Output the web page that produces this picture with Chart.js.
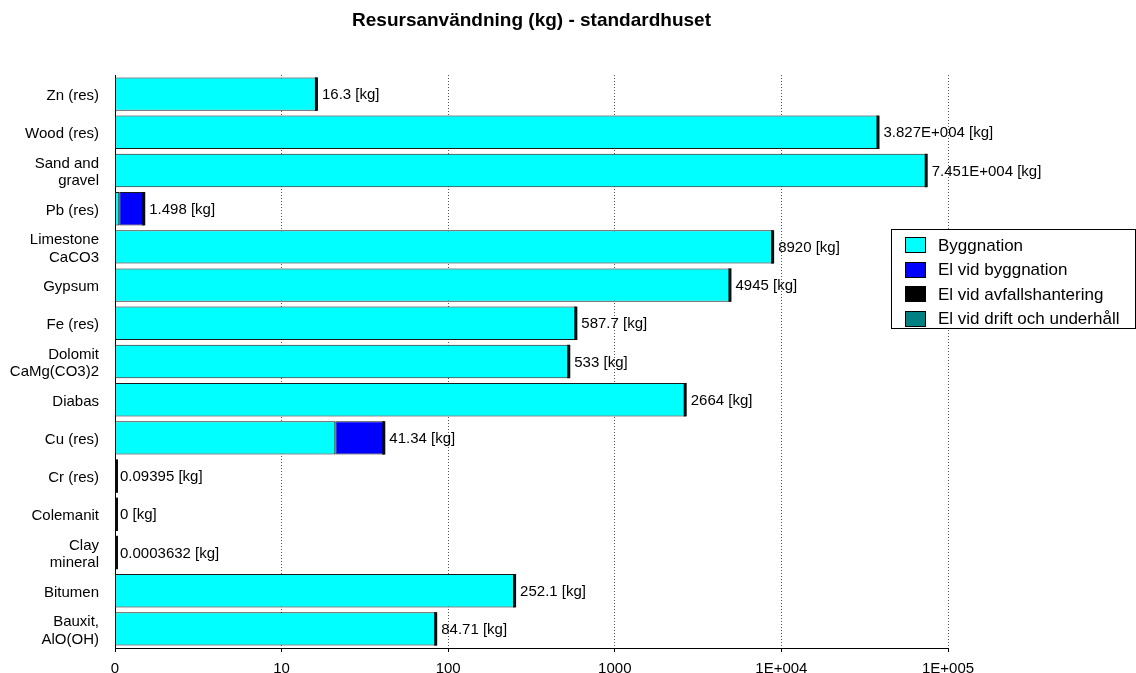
<!DOCTYPE html>
<html>
<head>
<meta charset="utf-8">
<script src="https://cdn.jsdelivr.net/npm/chart.js@4.4.1/dist/chart.umd.min.js"></script>
<style>
  html, body { margin: 0; padding: 0; background: #ffffff; }
  canvas { display: block; }
</style>
</head>
<body>
<canvas id="chart" width="1136" height="673"></canvas>
<script>
// Resource categories (top to bottom)
const categories = [
  ['Zn (res)'], ['Wood (res)'], ['Sand and', 'gravel'], ['Pb (res)'],
  ['Limestone', 'CaCO3'], ['Gypsum'], ['Fe (res)'], ['Dolomit', 'CaMg(CO3)2'],
  ['Diabas'], ['Cu (res)'], ['Cr (res)'], ['Colemanit'], ['Clay', 'mineral'],
  ['Bitumen'], ['Bauxit,', 'AlO(OH)']
];

// Series values in kg
const byggnation      = [16.3, 38270, 74510, 1.06, 8920, 4945, 587.7, 533, 2664, 21, 0.09395, 0, 0.0003632, 252.1, 84.71];
const elVidByggnation = [0, 0, 0, 0.438, 0, 0, 0, 0, 0, 20.34, 0, 0, 0, 0, 0];
const elVidAvfall     = [0, 0, 0, 0, 0, 0, 0, 0, 0, 0, 0, 0, 0, 0, 0];
const elVidDrift      = [0, 0, 0, 0, 0, 0, 0, 0, 0, 0, 0, 0, 0, 0, 0];

const seriesNames  = ['Byggnation', 'El vid byggnation', 'El vid avfallshantering', 'El vid drift och underhåll'];
const seriesColors = ['#00FFFF', '#0000FF', '#000000', '#008080'];

// Log axis ticks and their printed labels
const tickValues = [1, 10, 100, 1000, 10000, 100000];
const tickLabels = ['0', '10', '100', '1000', '1E+004', '1E+005'];

const chartTitle = 'Resursanvändning (kg) - standardhuset';
const unit = '[kg]';

const FONT = "'Liberation Sans', Arial, Helvetica, sans-serif";
const seriesData = [byggnation, elVidByggnation, elVidAvfall, elVidDrift];

// General-style number text: 4 significant digits, E+nnn above 1E+004
function valueText(v) {
  if (v === 0) return '0';
  if (Math.abs(v) >= 10000) {
    const e = Math.floor(Math.log10(Math.abs(v)));
    return (v / Math.pow(10, e)).toFixed(3) + 'E+' + String(e).padStart(3, '0');
  }
  return String(Number(v.toPrecision(4)));
}

const titlePlugin = {
  id: 'plotTitle',
  afterDraw(chart) {
    const { ctx, chartArea } = chart;
    ctx.save();
    ctx.font = 'bold 19px ' + FONT;
    ctx.fillStyle = '#000';
    ctx.textAlign = 'center';
    ctx.textBaseline = 'middle';
    ctx.fillText(chartTitle, (chartArea.left + chartArea.right) / 2, 21);
    ctx.restore();
  }
};

// Dark end cap on every stacked bar plus the total printed after it
const barEndPlugin = {
  id: 'barEnds',
  afterDatasetsDraw(chart) {
    const { ctx, chartArea, scales } = chart;
    const meta = chart.getDatasetMeta(0);
    ctx.save();
    ctx.font = '15px ' + FONT;
    ctx.textAlign = 'left';
    ctx.textBaseline = 'middle';
    categories.forEach((c, i) => {
      const total = seriesData.reduce((s, arr) => s + arr[i], 0);
      const raw = total > 0 ? scales.x.getPixelForValue(total) : chartArea.left;
      const px = Math.max(raw, chartArea.left + 2);
      const bar = meta.data[i];
      const top = bar.y - bar.height / 2;
      ctx.fillStyle = '#0a0a0a';
      ctx.fillRect(px - 2, top, 3, bar.height);
      ctx.fillStyle = '#000';
      ctx.fillText(valueText(total) + ' ' + unit, Math.max(raw, chartArea.left) + 5, scales.y.getPixelForValue(i) + 1);
    });
    ctx.restore();
  }
};

const boxLegendPlugin = {
  id: 'boxLegend',
  afterDraw(chart) {
    const { ctx } = chart;
    const box = { left: 891.5, top: 229.5, right: 1135.5, bottom: 328.5 };
    ctx.save();
    ctx.fillStyle = '#fff';
    ctx.fillRect(box.left, box.top, box.right - box.left, box.bottom - box.top);
    ctx.strokeStyle = '#000';
    ctx.lineWidth = 1;
    ctx.strokeRect(box.left, box.top, box.right - box.left, box.bottom - box.top);
    ctx.font = '17px ' + FONT;
    ctx.textAlign = 'left';
    ctx.textBaseline = 'middle';
    chart.data.datasets.forEach((ds, i) => {
      const cy = 245 + i * 24.5;
      ctx.fillStyle = ds.backgroundColor;
      ctx.fillRect(905, Math.round(cy - 8), 21, 16);
      ctx.strokeStyle = '#000';
      ctx.strokeRect(905.5, Math.round(cy - 8) + 0.5, 20, 15);
      ctx.fillStyle = '#000';
      ctx.fillText(ds.label, 938, cy + 1);
    });
    ctx.restore();
  }
};

const datasets = seriesNames.map((name, i) => ({
  label: name,
  data: seriesData[i],
  backgroundColor: seriesColors[i],
  borderColor: '#1a1a1a',
  borderWidth: 1,
  borderSkipped: false,
  barPercentage: 0.875,
  categoryPercentage: 1.0,
  clip: 0
}));

new Chart(document.getElementById('chart').getContext('2d'), {
  type: 'bar',
  data: { labels: categories, datasets },
  options: {
    responsive: false,
    animation: false,
    indexAxis: 'y',
    layout: { padding: { top: 75, right: 188, bottom: 0, left: 0 } },
    plugins: {
      legend: { display: false },
      tooltip: { enabled: false },
      title: { display: false }
    },
    scales: {
      x: {
        type: 'logarithmic',
        position: 'bottom',
        stacked: true,
        min: 1,
        max: 100000,
        afterBuildTicks(scale) {
          scale.ticks = tickValues.map(v => ({ value: v }));
        },
        afterFit(scale) {
          scale.height = 25;
          scale.paddingLeft = 0;
          scale.paddingRight = 0;
        },
        ticks: {
          autoSkip: false,
          maxRotation: 0,
          color: '#000',
          padding: 8,
          font: { family: FONT, size: 15 },
          callback: (v) => tickLabels[tickValues.indexOf(v)]
        },
        grid: {
          color: '#555',
          lineWidth: 1,
          drawTicks: true,
          tickLength: 4,
          tickColor: '#000',
          tickBorderDash: []
        },
        border: { display: true, color: '#000', width: 1, dash: [1, 2] }
      },
      y: {
        stacked: true,
        position: 'left',
        afterFit(scale) {
          scale.width = 115;
          scale.paddingTop = 0;
          scale.paddingBottom = 0;
        },
        ticks: {
          color: '#000',
          padding: 16,
          labelOffset: 2,
          font: { family: FONT, size: 15, lineHeight: 1.17 }
        },
        grid: { display: false, drawTicks: false },
        border: { display: true, color: '#000', width: 1 }
      }
    }
  },
  plugins: [titlePlugin, barEndPlugin, boxLegendPlugin]
});
</script>
</body>
</html>
